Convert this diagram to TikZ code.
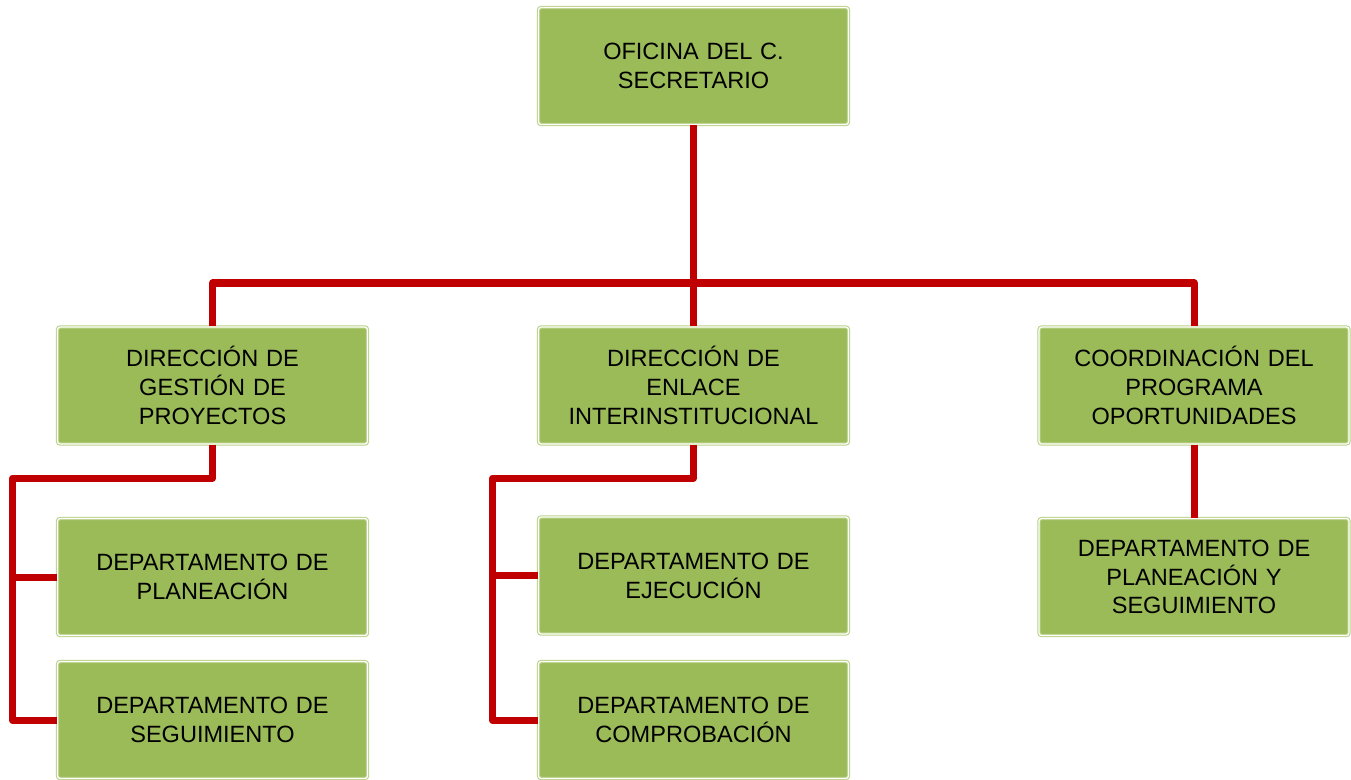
\documentclass[tikz,border=0pt]{standalone}
\usepackage{fontspec}
\setmainfont{Liberation Sans}
\usepackage{tikz}
\definecolor{boxfill}{HTML}{9BBB59}
\definecolor{boxedge}{HTML}{B9D186}
\definecolor{linkred}{HTML}{C00000}
\tikzset{
  unit/.style={draw=boxedge, double=white, double distance=0.7pt, line width=0.6pt,
    fill=boxfill, rounded corners=1.5pt, minimum width=6.2cm, minimum height=2.34cm,
    text width=5.8cm, align=center, inner sep=0pt,
    font=\fontsize{13.4}{16.4}\selectfont},
  link/.style={linkred, line width=4pt, line join=round, line cap=butt}
}
\begin{document}
\begin{tikzpicture}[x=0.02cm, y=-0.02cm]
\useasboundingbox (0,0) rectangle (1351,779);

%%%%-----------Oficina----------------%%%%
\node [unit] (ofi) at (693.5,66) {OFICINA DEL C.\\ SECRETARIO};

%%%%-----------Direcciones------------%%%%
\node [unit] (dgp) at (212.5,385.5) {DIRECCIÓN DE\\ GESTIÓN DE\\ PROYECTOS};
\node [unit] (dei) at (693.5,385.5) {DIRECCIÓN DE\\ ENLACE\\ INTERINSTITUCIONAL};
\node [unit] (cpo) at (1194,385.5) {COORDINACIÓN DEL\\ PROGRAMA\\ OPORTUNIDADES};

%%%%-----------Departamentos----------%%%%
\node [unit] (dpl) at (212.5,577) {DEPARTAMENTO DE\\ PLANEACIÓN};
\node [unit] (dse) at (212.5,720) {DEPARTAMENTO DE\\ SEGUIMIENTO};
\node [unit] (dej) at (693.5,575.5) {DEPARTAMENTO DE\\ EJECUCIÓN};
\node [unit] (dco) at (693.5,720) {DEPARTAMENTO DE\\ COMPROBACIÓN};
\node [unit] (dps) at (1194,577) {DEPARTAMENTO DE\\ PLANEACIÓN Y\\ SEGUIMIENTO};

%%%----------Lineas----------%%%
\coordinate (bus) at (693.5,283);
\coordinate (lbus) at (12.5,478);
\coordinate (mbus) at (492.5,478);

\draw [link] (ofi.south) -- (dei.north);
\draw [link] (dgp.north) |- (bus) -| (cpo.north);

\draw [link] (dgp.south) |- (lbus) |- (dse.west);
\draw [link] (lbus |- dpl.west) -- (dpl.west);

\draw [link] (dei.south) |- (mbus) |- (dco.west);
\draw [link] (mbus |- dej.west) -- (dej.west);

\draw [link] (cpo.south) -- (dps.north);

% \draw [help lines, step=50] (0,0) grid (1351,779);
\end{tikzpicture}
\end{document}
